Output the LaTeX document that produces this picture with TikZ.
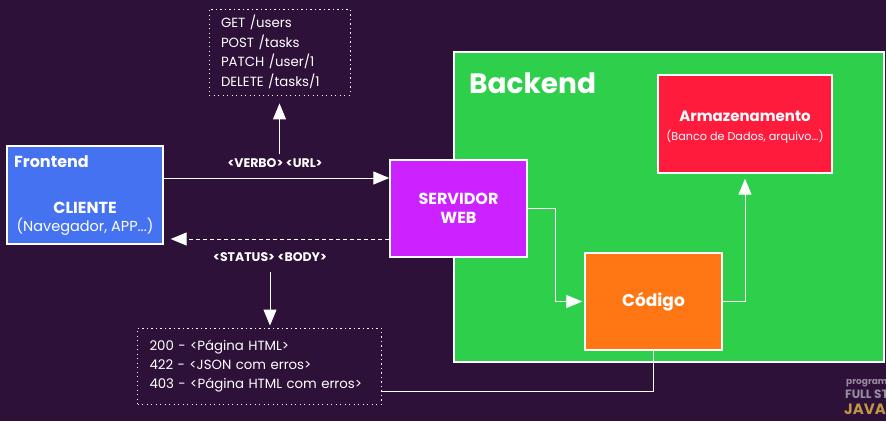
\documentclass[tikz,border=0pt]{standalone}
\usepackage{fontspec}
\setmainfont{Poppins}
\usetikzlibrary{arrows.meta}
\definecolor{bgc}{RGB}{46,17,56}
\definecolor{bluec}{RGB}{68,114,240}
\definecolor{greenc}{RGB}{46,207,75}
\definecolor{purplec}{RGB}{204,34,255}
\definecolor{redc}{RGB}{255,27,60}
\definecolor{orangec}{RGB}{255,118,20}
\definecolor{wmgray}{RGB}{150,140,160}
\definecolor{wmgold}{RGB}{190,150,70}
\begin{document}
\begin{tikzpicture}[x=1pt,y=-1pt,
  box/.style={draw=white,line width=1.4pt,text=white,minimum width=#1},
  txtbox/.style={draw=white,line width=0.9pt,dash pattern=on 1.2pt off 3.3pt,text=white,align=left,inner ysep=0pt},
  arr/.style={draw=white,line width=1pt,-{Triangle[length=16pt,width=13pt]}},
  lbl/.style={text=white,inner sep=0pt}]
\fill[bgc] (0,0) rectangle (886,421);
\useasboundingbox (0,0) rectangle (886,421);

% watermark (cut off at the right edge, as in the reference)
\begin{scope}
\clip (0,0) rectangle (886,421);
\node[anchor=west,inner sep=0pt,text=wmgray,font=\fontsize{9}{9}\selectfont\bfseries] (wm1) at (846,382) {programador};
\node[anchor=west,inner sep=0pt,text=wmgray,font=\fontsize{12}{12}\selectfont\bfseries] (wm2) at (845,394) {FULL STACK};
\node[anchor=west,inner sep=0pt,text=wmgold,font=\fontsize{15}{15}\selectfont\bfseries] (wm3) at (844,409) {JAVA};
\end{scope}

% Backend container
\node[box=430pt,fill=greenc,minimum height=310pt] (back) at (669,207) {};
\node[lbl,anchor=west,font=\fontsize{28}{28}\selectfont\bfseries] (backl) at (469,83) {Backend};

% Frontend
\node[box=156pt,fill=bluec,minimum height=98pt] (front) at (85,195) {};
\node[lbl,anchor=west,font=\fontsize{16}{16}\selectfont\bfseries] (frontl) at (14,162) {Frontend};
\node[lbl,font=\fontsize{16}{16}\selectfont\bfseries] (cli) at (85,208) {CLIENTE};
\node[lbl,font=\fontsize{14.5}{14.5}\selectfont] (nav) at (85,227) {(Navegador, APP...)};

% Servidor web
\node[box=137pt,fill=purplec,minimum height=97pt,align=center,font=\fontsize{16}{19}\selectfont\bfseries] (serv) at (458.5,208.5) {SERVIDOR\\WEB};

% Armazenamento
\node[box=174pt,fill=redc,minimum height=98pt] (arm) at (745,124) {};
\node[lbl,font=\fontsize{15}{15}\selectfont\bfseries] (arml) at (745,116) {Armazenamento};
\node[lbl,font=\fontsize{11.2}{11.2}\selectfont] (arms) at (745,137) {(Banco de Dados, arquivo...)};

% Codigo
\node[box=137pt,fill=orangec,minimum height=97pt,font=\fontsize{17}{17}\selectfont\bfseries] (cod) at (653.5,301.5) {Código};

% Request text box
\node[txtbox,text width=117pt,inner xsep=12pt,minimum height=86pt,font=\fontsize{13.3}{19.6}\selectfont] (req) at (279.5,52)
  {GET /users\\POST /tasks\\PATCH /user/1\\DELETE /tasks/1};

% Response text box
\node[txtbox,text width=220pt,inner xsep=12pt,minimum height=76pt,font=\fontsize{13.3}{19.2}\selectfont] (resp) at (259.5,366)
  {200 - <Página HTML>\\422 - <JSON com erros>\\403 - <Página HTML com erros>};

% labels
\node[lbl,font=\fontsize{12.5}{12.5}\selectfont\bfseries] (verbo) at (275,163) {<VERBO> <URL>};
\node[lbl,font=\fontsize{12.5}{12.5}\selectfont\bfseries] (status) at (270,257) {<STATUS> <BODY>};

% connectors
\coordinate (yv) at (0,178);
\coordinate (ys) at (0,239);
\coordinate (yb) at (0,391);
\draw[arr] (front.east |- yv) -- (serv.west |- yv);
\draw[arr,dash pattern=on 4pt off 3pt] (serv.west |- ys) -- ([xshift=7pt]front.east |- ys);
\draw[arr] ([yshift=4pt]verbo.north -| req.south) -- ([yshift=-8pt]req.south);
\coordinate (dn) at (270,272);
\draw[arr] (dn) -- ([yshift=2pt]resp.north -| dn);
\coordinate (sc) at (555,0);
\draw[arr] (serv.east) -- (serv.east -| sc) |- ([xshift=-2pt]cod.west);
\draw[arr] (cod.east) -| ([yshift=-5pt]arm.south);
\draw[draw=white,line width=1pt] (resp.east |- yb) -| (cod.south);
\end{tikzpicture}
\end{document}
